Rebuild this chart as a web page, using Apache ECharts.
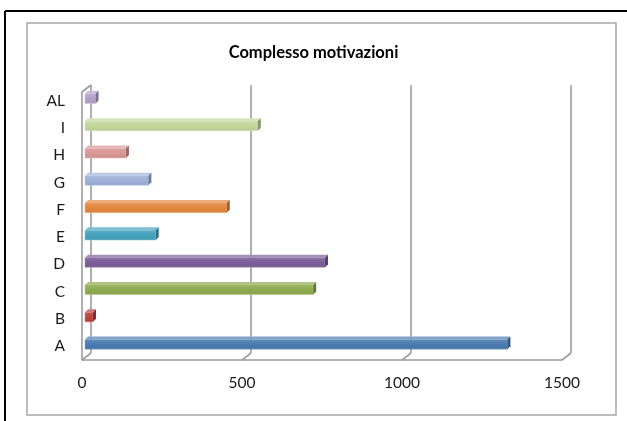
<!DOCTYPE html>
<html>
<head>
<meta charset="utf-8">
<title>Complesso motivazioni</title>
<script src="https://cdn.jsdelivr.net/npm/echarts@6/dist/echarts.min.js"></script>
<style>
  html, body { margin: 0; padding: 0; background: #ffffff; }
  #chart { width: 627px; height: 421px; }
</style>
</head>
<body>
<div id="chart"></div>
<script>
// Categories from bottom to top of the value axis
const categories = ['A', 'B', 'C', 'D', 'E', 'F', 'G', 'H', 'I', 'AL'];
const values = [1320, 25, 713, 750, 221, 443, 198, 128, 540, 33];
const xTicks = [0, 500, 1000, 1500];

// Face colours for each bar
const barColors = ['#4a7ab0', '#b9443f', '#8dab50', '#7b5e99', '#44a2bc',
                   '#e2883f', '#9cb0d8', '#d99795', '#c2d69b', '#b1a1c8'];

const FONT = 'Lato, "Liberation Sans", sans-serif';
const WALL = '#9c9c9c';
const DX = 9, DY = 7;       // depth offset of the back wall
const BX = 3, BY = 2;       // bars sit a little behind the front plane
const HALF = 4.8;           // half height of a bar's front face
const D = 3;                // bar depth

function shade(hex, f) {
  const n = parseInt(hex.slice(1), 16);
  let r = (n >> 16) & 255, g = (n >> 8) & 255, b = n & 255;
  if (f >= 0) { r += (255 - r) * f; g += (255 - g) * f; b += (255 - b) * f; }
  else { r *= 1 + f; g *= 1 + f; b *= 1 + f; }
  return 'rgb(' + Math.round(r) + ',' + Math.round(g) + ',' + Math.round(b) + ')';
}

const chart = echarts.init(document.getElementById('chart'), null, { renderer: 'canvas' });

chart.setOption({
  backgroundColor: '#ffffff',
  animation: false,
  title: {
    text: 'Complesso motivazioni',
    left: 'center',
    top: 39,
    textStyle: { fontFamily: FONT, fontSize: 16.5, fontWeight: 'bold', color: '#000' }
  },
  graphic: [
    // outer black frame (left and top edges)
    { type: 'line', shape: { x1: 5, y1: 11, x2: 627, y2: 11 }, style: { stroke: '#000', lineWidth: 2 } },
    { type: 'line', shape: { x1: 5, y1: 11, x2: 5, y2: 421 }, style: { stroke: '#000', lineWidth: 2 } },
    // chart area border
    { type: 'rect', shape: { x: 27, y: 23, width: 589, height: 392 },
      style: { fill: 'none', stroke: '#a6a6a6', lineWidth: 1.5 } }
  ],
  grid: { left: 82, top: 87, width: 480, height: 273 },
  xAxis: {
    type: 'value', min: 0, max: 1500, interval: 500,
    axisLine: { show: true, lineStyle: { color: WALL, width: 1.6 } },
    axisTick: { show: false },
    splitLine: { show: false },
    axisLabel: { margin: 15, fontFamily: FONT, fontSize: 15.5, color: '#1a1a1a',
                 formatter: v => String(v) }
  },
  yAxis: {
    type: 'category', data: categories,
    axisLine: { show: false },
    axisTick: { show: false },
    axisLabel: { margin: 17, fontFamily: FONT, fontSize: 15.5, color: '#1a1a1a' }
  },
  series: [
    {
      // back wall, side wall and floor edges
      type: 'custom',
      silent: true,
      z: 1,
      data: xTicks.map(t => [t, 0]),
      renderItem: function (params, api) {
        const cs = params.coordSys;
        const bottom = cs.y + cs.height;
        const xf = api.coord([api.value(0), 0])[0];
        const style = { stroke: WALL, lineWidth: 1.6, fill: 'none' };
        const children = [
          { type: 'line', shape: { x1: xf, y1: bottom, x2: xf + DX, y2: bottom - DY }, style: style },
          { type: 'line', shape: { x1: xf + DX, y1: bottom - DY, x2: xf + DX, y2: cs.y - 2 }, style: style }
        ];
        if (params.dataIndex === 0) {
          children.push({ type: 'polyline', shape: { points: [[xf, bottom], [xf, cs.y + 5], [xf + DX, cs.y - 2]] }, style: style });
        }
        return { type: 'group', children: children };
      }
    },
    {
      // 3D bars
      type: 'custom',
      z: 2,
      encode: { x: 0, y: 1 },
      data: values.map((v, i) => [v, i]),
      renderItem: function (params, api) {
        const v = api.value(0), ci = api.value(1);
        const p0 = api.coord([0, ci]);
        const p1 = api.coord([v, ci]);
        const x0 = p0[0] + BX, x1 = p1[0] + BX;
        const yc = p0[1] - BY;
        const yt = yc - HALF, yb = yc + HALF;
        const c = barColors[ci];
        return {
          type: 'group',
          children: [
            { type: 'rect', shape: { x: x0, y: yt, width: x1 - x0, height: yb - yt },
              style: { fill: new echarts.graphic.LinearGradient(0, 0, 0, 1, [
                { offset: 0, color: shade(c, 0.12) }, { offset: 0.5, color: c }, { offset: 1, color: shade(c, -0.05) }
              ]), stroke: shade(c, 0.35), lineWidth: 0.6 } },
            { type: 'polygon', shape: { points: [[x0, yt], [x1, yt], [x1 + D, yt - D], [x0 + D, yt - D]] },
              style: { fill: shade(c, 0.3) } },
            { type: 'polygon', shape: { points: [[x1, yt], [x1 + D, yt - D], [x1 + D, yb - D], [x1, yb]] },
              style: { fill: shade(c, -0.3) } }
          ]
        };
      }
    }
  ]
});
</script>
</body>
</html>
